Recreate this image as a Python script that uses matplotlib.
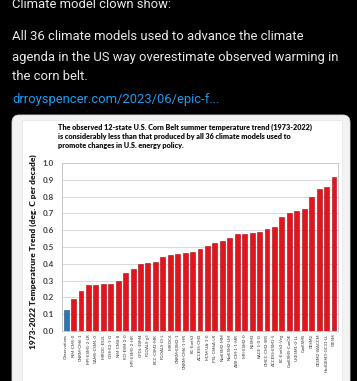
import matplotlib
matplotlib.use("Agg")
import matplotlib.pyplot as plt
from matplotlib.patches import FancyBboxPatch, Rectangle

# data
models = ["Observations", "INM-CM5-0", "CNRM-CM6-1", "MPI-ESM1-2-LR", "CAMS-CSM1-0",
          "MIROC-ES2L", "GISS-E2-1-G", "INM-CM4-8", "FIO-ESM-2-0", "MPI-ESM1-2-HR",
          "GFDL-ESM4", "FGOALS-g3", "BCC-CSM2-MR", "FGOALS-f3-L", "MIROC6",
          "CNRM-ESM2-1", "CNRM-CM6-1-HR", "EC-Earth3", "ACCESS-CM2", "MCM-UA-1-0",
          "IPSL-CM6A-LR", "NorESM2-MM", "NorESM2-LM", "AWI-CM-1-1-MR", "MRI-ESM2-0",
          "NESM3", "KACE-1-0-G", "CMCC-CM2-SR5", "ACCESS-ESM1-5", "EC-Earth3-Veg",
          "CanESM5-CanOE", "UKESM1-0-LL", "CanESM5", "CESM2", "CESM2-WACCM",
          "HadGEM3-GC31-LL", "CIESM"]
trend = [0.125, 0.19, 0.236, 0.272, 0.276, 0.278, 0.28, 0.296, 0.347, 0.367,
         0.40, 0.405, 0.41, 0.44, 0.452, 0.456, 0.466, 0.472, 0.486, 0.506,
         0.526, 0.536, 0.556, 0.575, 0.577, 0.581, 0.591, 0.605, 0.617, 0.677,
         0.704, 0.716, 0.726, 0.80, 0.843, 0.855, 0.915]
yticks = [0.0, 0.1, 0.2, 0.3, 0.4, 0.5, 0.6, 0.7, 0.8, 0.9, 1.0]

tweet_lines = ["Climate model clown show:", "",
               "All 36 climate models used to advance the climate",
               "agenda in the US way overestimate observed warming in",
               "the corn belt."]
link = "drroyspencer.com/2023/06/epic-f..."
title = ("The observed 12-state U.S. Corn Belt summer temperature trend (1973-2022)\n"
         "is considerably less than that produced by all 36 climate models used to\n"
         "promote changes in U.S. energy policy.")

W, H = 357, 381


def px(x, y):
    return x / W, 1 - y / H


fig = plt.figure(figsize=(W / 100, H / 100), dpi=100, facecolor="black")

# tweet text
ys = [5, 17, 37, 57, 77]
for t, y in zip(tweet_lines, ys):
    if t:
        fig.text(*px(12, y), t, color="#e7e9ea", fontsize=9.35, family="Roboto",
                 va="center", ha="left")
fig.text(*px(12, 100), link, color="#1d9bf0", fontsize=9.35, family="Roboto",
         va="center", ha="left")

# card behind the chart
card = FancyBboxPatch(px(12, 400), 338 / W, 285 / H, boxstyle="round,pad=0,rounding_size=0.02",
                      transform=fig.transFigure, facecolor="#f3f3f3", edgecolor="#dddddd",
                      linewidth=0.6, zorder=-2)
fig.patches.append(card)
fig.patches.append(Rectangle(px(22, 400), 320 / W, 280 / H, transform=fig.transFigure,
                             facecolor="white", edgecolor="#e4e4e4", linewidth=0.5,
                             zorder=-1))

fig.text(*px(58, 124), title, color="#111111", fontsize=5.2, family="Lato",
         fontweight="heavy", va="top", ha="left", linespacing=1.3)

ax = fig.add_axes([62 / W, (H - 331) / H, (337.7 - 62) / W, (331 - 163) / H])
colors = ["#2e75b6"] + ["#e3141b"] * (len(models) - 1)
edges = ["#1f4e79"] + ["#a00d12"] * (len(models) - 1)
ax.bar(range(len(models)), trend, width=0.66, color=colors, edgecolor=edges, linewidth=0.4,
       zorder=3)
ax.set_xlim(-0.55, 36.5)
ax.set_ylim(0, 1.0)
ax.set_yticks(yticks)
ax.set_yticklabels([f"{v:.1f}" for v in yticks], fontsize=5.8, family="Lato",
                   fontweight="bold", color="#404040")
ax.set_xticks(range(len(models)))
ax.set_xticklabels(models, rotation=90, fontsize=3.1, family="Lato", color="#303030")
ax.tick_params(length=0, pad=2)
ax.tick_params(axis="y", pad=6)
ax.grid(axis="y", color="#d9d9d9", linewidth=0.7, zorder=0)
for s in ax.spines.values():
    s.set_color("#c8c8c8")
    s.set_linewidth(0.7)
ax.set_ylabel("1973-2022 Temperatrure Trend (deg. C per decade)", fontsize=6.0,
              family="Lato", fontweight="heavy", color="#1a1a1a")
ax.yaxis.set_label_coords(-0.092, 0.47)

fig.savefig("out.png", dpi=100, facecolor="black")
